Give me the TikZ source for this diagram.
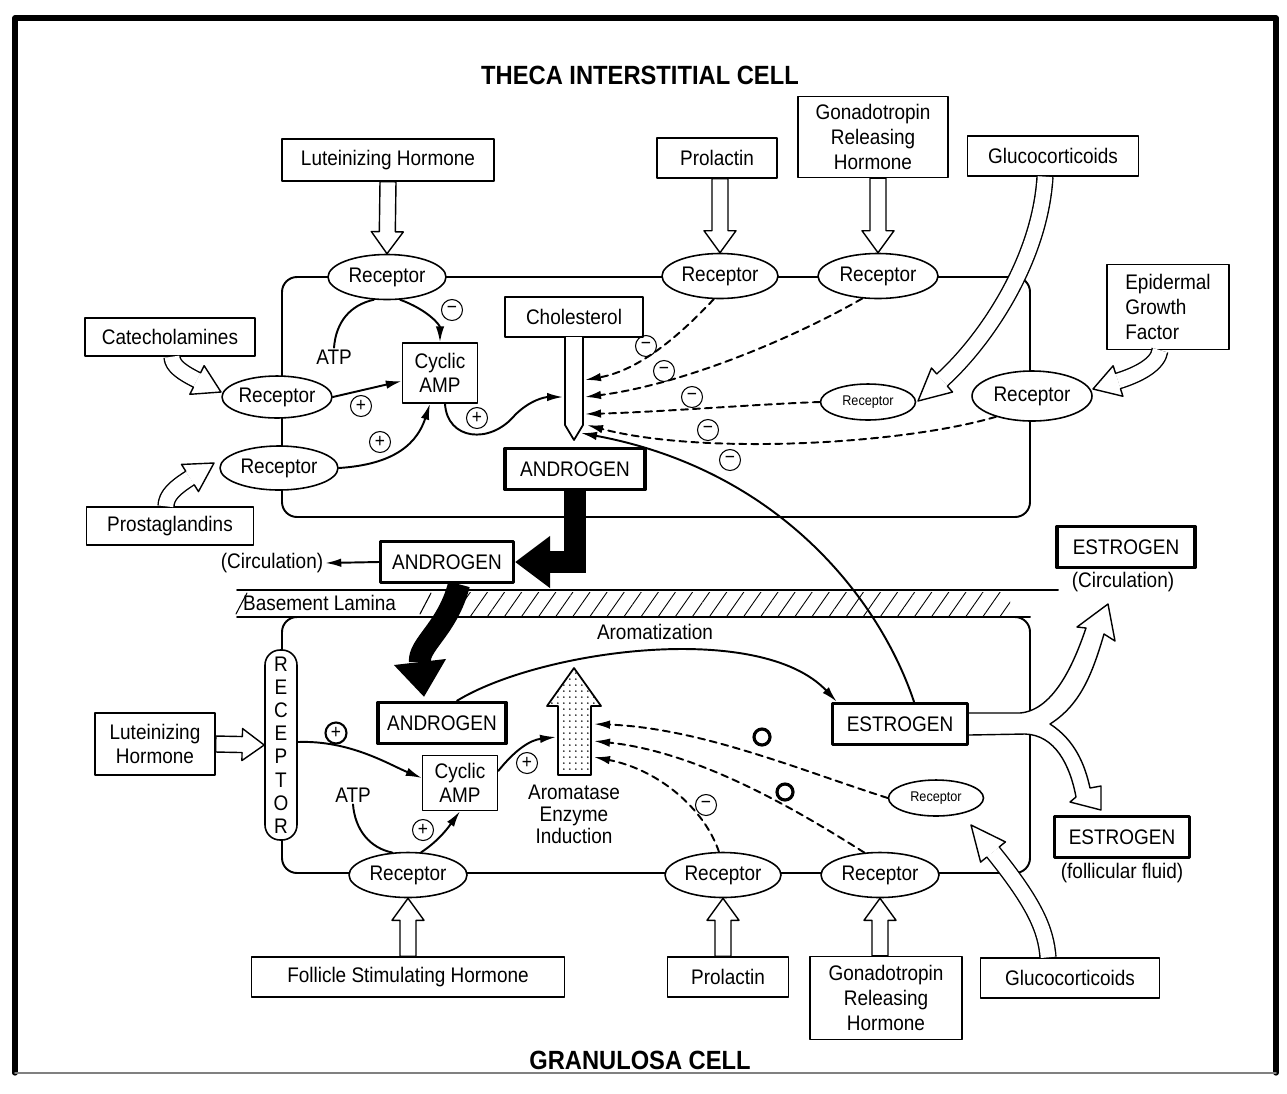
\documentclass[tikz,border=0pt]{standalone}
\usepackage{fontspec}
\setmainfont{Liberation Sans}[FakeStretch=0.9]
\usetikzlibrary{arrows.meta,calc,patterns.meta,shapes.geometric}

\begin{document}
\begin{tikzpicture}[x=0.02cm,y=-0.02cm,line cap=round,line join=round,
  every node/.style={inner sep=1pt,font=\fontsize{12}{14}\selectfont},
  box/.style={draw,line width=0.8pt,fill=white,align=center},
  hbox/.style={draw,line width=2pt,fill=white,minimum height=0.82cm},
  rec/.style={ellipse,draw,line width=0.9pt,fill=white,inner sep=0pt,minimum width=2.36cm,minimum height=0.9cm},
  srec/.style={rec,minimum width=1.9cm,minimum height=0.72cm,font=\fontsize{8}{9}\selectfont},
  arr/.style={line width=1.1pt,-{Latex[length=0.32cm,width=0.17cm]}},
  dsh/.style={arr,dash pattern=on 0.14cm off 0.1cm},
  sgn/.style={circle,draw,line width=0.6pt,minimum size=0.42cm,inner sep=0pt,font=\fontsize{11}{11}\selectfont},
  ring/.style={circle,draw,line width=1.8pt,minimum size=0.32cm,inner sep=0pt},
  blk/.style={line width=0.44cm,line cap=butt,-{Triangle[length=0.7cm,width=1.05cm,line width=0pt]}},
  hshaft/.style={line width=0.8pt,line cap=butt,double=white,double distance=0.29cm},
  hhead/.style={fill=white,line width=0.8pt,to path={
    ($(\tikztostart)!0.16cm!90:(\tikztotarget)$) -- ($(\tikztostart)!0.32cm!90:(\tikztotarget)$)
    -- (\tikztotarget) -- ($(\tikztostart)!0.32cm!-90:(\tikztotarget)$)
    -- ($(\tikztostart)!0.16cm!-90:(\tikztotarget)$)}},
  hollow/.style={fill=white,line width=0.8pt,to path={
    ($(\tikztostart)!0.16cm!90:(\tikztotarget)$)
    -- ($(\tikztotarget)!0.44cm!(\tikztostart)!0.16cm!90:(\tikztotarget)$)
    -- ($(\tikztotarget)!0.44cm!(\tikztostart)!0.32cm!90:(\tikztotarget)$)
    -- (\tikztotarget)
    -- ($(\tikztotarget)!0.44cm!(\tikztostart)!0.32cm!-90:(\tikztotarget)$)
    -- ($(\tikztotarget)!0.44cm!(\tikztostart)!0.16cm!-90:(\tikztotarget)$)
    -- ($(\tikztostart)!0.16cm!-90:(\tikztotarget)$) -- cycle}}]
  \useasboundingbox (0,0) rectangle (1287,1093);
  \draw[line width=3pt] (15,1073) -- (15,18) -- (1276,18) -- (1276,1073);
  \draw[line width=1pt,gray] (15,1073) -- (1276,1073);

  % 细胞膜与基底层
  \draw[line width=1.1pt,rounded corners=0.3cm] (282,277) rectangle (1030,517);
  \draw[line width=1.1pt,rounded corners=0.3cm] (282,617) rectangle (1030,873);
  \fill[pattern={Lines[angle=55,distance=0.28cm,line width=0.5pt]}] (438,592) rectangle (1010,615);
  \draw[line width=1.1pt] (237,590) -- (1058,590) (237,617) -- (1030,617);
  \draw[line width=0.6pt] (236,614) -- (247,593) (420,614) -- (431,593);
  \node[anchor=west] (lam) at (241,603) {Basement Lamina};

  % 卵泡膜细胞
  \node[font=\fontsize{15}{18}\selectfont\bfseries] (theca) at (640,75) {THECA INTERSTITIAL CELL};
  \node[box,minimum width=4.24cm,minimum height=0.84cm] (lhT) at (388,160) {Luteinizing Hormone};
  \node[box,minimum width=2.4cm,minimum height=0.8cm] (prlT) at (717,158) {Prolactin};
  \node[box,minimum width=3.0cm,minimum height=1.62cm] (gnrhT) at (873,137) {Gonadotropin\\Releasing\\Hormone};
  \node[box,minimum width=3.42cm,minimum height=0.8cm] (gcT) at (1053,156) {Glucocorticoids};
  \node[box,align=left,minimum width=2.44cm,minimum height=1.7cm] (egf) at (1168,307) {Epidermal\\Growth\\Factor};
  \node[box,minimum width=3.4cm,minimum height=0.76cm] (cat) at (170,337) {Catecholamines};
  \node[box,minimum width=3.34cm,minimum height=0.76cm] (pg) at (170,526) {Prostaglandins};
  \node[rec] (recLH) at (387,277) {Receptor};
  \node[rec,minimum width=2.32cm] (recPRL) at (720,276) {Receptor};
  \node[rec,minimum width=2.4cm] (recGN) at (878,276) {Receptor};
  \node[srec] (recGC) at (868,402) {Receptor};
  \node[rec,minimum width=2.4cm,minimum height=1cm] (recEGF) at (1032,396) {Receptor};
  \node[rec,minimum width=2.2cm,minimum height=0.84cm] (recCAT) at (277,397) {Receptor};
  \node[rec,minimum height=0.88cm] (recPG) at (279,468) {Receptor};
  \node[box,minimum width=1.5cm,minimum height=1.2cm] (campT) at (440,373) {Cyclic\\AMP};
  \node (atpT) at (334,357) {ATP};
  \node[box,minimum width=2.76cm,minimum height=0.8cm] (chol) at (574,317) {Cholesterol};
  \draw[line width=1pt,fill=white] (565,337) -- (565,425) -- (574,440) -- (583,425) -- (583,337);
  \node[hbox,minimum width=2.8cm] (androT) at (575,469) {ANDROGEN};
  \coordinate (tL) at (563,397);
  \coordinate (t1) at (585,380);
  \coordinate (t2) at (585,397);
  \coordinate (t3) at (585,414);
  \coordinate (t4) at (587,425);
  \coordinate (t5) at (581,433);

  \node[hbox,minimum width=2.66cm] (androM) at (447,562) {ANDROGEN};
  \node (circA) at (272,563) {(Circulation)};
  \node[hbox,minimum width=2.76cm] (estC) at (1126,547) {ESTROGEN};
  \node (circE) at (1123,582) {(Circulation)};

  % 颗粒细胞
  \node[hbox,minimum width=2.56cm] (androG) at (442,723) {ANDROGEN};
  \node[hbox,minimum width=2.7cm] (estG) at (900,724) {ESTROGEN};
  \node[hbox,minimum width=2.7cm] (estF) at (1122,837) {ESTROGEN};
  \node (fluid) at (1122,873) {(follicular fluid)};
  \node[draw,line width=0.9pt,fill=white,rounded corners=0.3cm,minimum width=0.64cm,minimum height=3.8cm,
    align=center,font=\fontsize{12}{13.2}\selectfont] (recV) at (281,745) {R\\E\\C\\E\\P\\T\\O\\R};
  \node[box,minimum width=2.4cm,minimum height=1.24cm] (lhG) at (155,744) {Luteinizing\\Hormone};
  \node[box,minimum width=1.5cm,minimum height=1.1cm] (campG) at (460,783) {Cyclic\\AMP};
  \node (atpG) at (353,795) {ATP};
  \node (aroLbl) at (655,632) {Aromatization};
  \draw[line width=1pt,pattern={Dots[distance=0.12cm,radius=0.5pt]}] (574,668) -- (601,706) -- (591,706)
    -- (591,775) -- (558,775) -- (558,706) -- (547,706) -- cycle;
  \node[align=center,font=\fontsize{12}{12.5}\selectfont] (aroTxt) at (574,814) {Aromatase\\Enzyme\\Induction};
  \coordinate (aL) at (556,737);
  \coordinate (a1) at (594,724);
  \coordinate (a2) at (594,741);
  \coordinate (a3) at (594,757);
  \node[rec] (recFSH) at (408,875) {Receptor};
  \node[rec,minimum width=2.32cm] (recPRLG) at (723,875) {Receptor};
  \node[rec] (recGNG) at (880,875) {Receptor};
  \node[srec] (recGCG) at (936,798) {Receptor};
  \node[box,minimum width=6.26cm,minimum height=0.8cm] (fsh) at (408,977) {Follicle Stimulating Hormone};
  \node[box,minimum width=2.42cm,minimum height=0.8cm] (prlG) at (728,977) {Prolactin};
  \node[box,minimum width=3.04cm,minimum height=1.66cm] (gnrhG) at (886,998) {Gonadotropin\\Releasing\\Hormone};
  \node[box,minimum width=3.58cm,minimum height=0.8cm] (gcG) at (1070,978) {Glucocorticoids};
  \node[font=\fontsize{15}{18}\selectfont\bfseries] (gran) at (640,1060) {GRANULOSA CELL};

  % 空心箭头
  \draw[hollow] (lhT.south) to (recLH.north);
  \draw[hollow] (prlT.south -| recPRL.north) to (recPRL.north);
  \draw[hollow] (gnrhT.south -| recGN.north) to (recGN.north);
  \draw[hollow] (fsh.north) to (recFSH.south);
  \draw[hollow] (prlG.north -| recPRLG.south) to (recPRLG.south);
  \draw[hollow] (gnrhG.north -| recGNG.south) to (recGNG.south);
  \draw[hollow] (lhG.east) to (recV.west);
  \coordinate (gA) at (942,380);
  \coordinate (gB) at (918,401);
  \draw[hshaft] ($(gcT.south)+(-8,0)$) .. controls (1040,260) and (986,340) .. (gA);
  \draw[hhead] (gA) to (gB);
  \coordinate (gC) at (993,852);
  \coordinate (gD) at (971,825);
  \draw[hshaft] ($(gcG.north)+(-22,0)$) .. controls (1046,930) and (1035,904) .. (gC);
  \draw[hhead] (gC) to (gD);
  \coordinate (cA) at (197,380);
  \coordinate (cB) at (221,392);
  \draw[hshaft] ($(cat.south)+(2,0)$) .. controls (172,366) and (183,373) .. (cA);
  \draw[hhead] (cA) to (cB);
  \coordinate (pA) at (190,478);
  \coordinate (pB) at (214,463);
  \draw[hshaft] ($(pg.north)+(-4,0)$) .. controls (166,495) and (176,487) .. (pA);
  \draw[hhead] (pA) to (pB);
  \coordinate (eA) at (1118,381);
  \coordinate (eB) at (1093,389);
  \draw[hshaft] ($(egf.south)+(-8,0)$) .. controls (1158,365) and (1137,375) .. (eA);
  \draw[hhead] (eA) to (eB);
  \draw[line width=0.8pt,fill=white] ($(estG.east)+(0,-11)$) -- (1020,713) .. controls (1055,710) and (1075,660) .. (1086,628)
    -- (1077,627) -- (1108,604) -- (1115,641) -- (1104,634) .. controls (1092,675) and (1080,705) .. (1050,724)
    .. controls (1075,740) and (1085,765) .. (1090,788) -- (1101,786) -- (1101,810) -- (1070,802) -- (1076,797)
    .. controls (1070,765) and (1055,735) .. (1025,734) -- ($(estG.east)+(0,11)$);

  % 雄激素转运
  \draw[blk,line join=miter] (androT.south) |- (androM.east);
  \draw[blk] ($(androM.south)+(12,0)$) .. controls (448,628) and (418,645) .. ($(androG.north)+(-18,-4)$);
  \draw[arr] (androM.west) -- (circA.east);

  % 膜细胞内信号
  \draw[line width=1.1pt] (atpT.north) .. controls (336,322) and (350,305) .. (recLH.240);
  \draw[arr] (recLH.300) .. controls (428,310) and (440,325) .. (campT.north);
  \draw[arr] (recCAT.east) -- ($(campT.west)+(0,8)$);
  \draw[arr] (recPG.east) .. controls (385,465) and (415,450) .. ($(campT.south)+(-10,0)$);
  \draw[arr] ($(campT.south)+(5,0)$) .. controls (447,440) and (490,445) .. (515,415) .. controls (530,400) and (545,397) .. (tL);
  \draw[dsh] (recPRL.255) .. controls (680,335) and (640,370) .. (t1);
  \draw[dsh] (recGN.235) .. controls (790,340) and (680,385) .. (t2);
  \draw[dsh] (recGC.west) .. controls (760,404) and (660,412) .. (t3);
  \draw[dsh] (recEGF.210) .. controls (900,445) and (700,455) .. (t4);
  \draw[arr] ($(estG.north)+(14,0)$) .. controls (880,600) and (780,470) .. (t5);
  \node[sgn] (m0) at (452,310) {−};
  \node[sgn] (m1) at (646,346) {−};
  \node[sgn] (m2) at (664,371) {−};
  \node[sgn] (m3) at (692,397) {−};
  \node[sgn] (m4) at (708,430) {−};
  \node[sgn] (m5) at (730,460) {−};
  \node[sgn] (p1) at (361,406) {+};
  \node[sgn] (p2) at (380,442) {+};
  \node[sgn] (p3) at (477,418) {+};

  % 颗粒细胞内信号
  \draw[arr] ($(androG.north)+(15,0)$) .. controls (540,650) and (760,620) .. ($(estG.north west)+(6,0)$);
  \draw[arr] ($(recV.east)+(0,-3)$) .. controls (350,740) and (390,765) .. ($(campG.west)+(0,-5)$);
  \draw[arr] ($(campG.east)+(0,-12)$) .. controls (515,750) and (530,740) .. (aL);
  \draw[line width=1.1pt] (atpG.south) .. controls (355,830) and (370,848) .. (recFSH.125);
  \draw[arr] (recFSH.60) .. controls (440,840) and (450,825) .. (campG.south);
  \draw[dsh] (recGCG.west) .. controls (800,770) and (700,728) .. (a1);
  \draw[dsh] (recGNG.125) .. controls (800,812) and (700,752) .. (a2);
  \draw[dsh] (recPRLG.100) .. controls (705,810) and (660,770) .. (a3);
  \node[sgn,line width=1.2pt] (p4) at (336,733) {+};
  \node[sgn] (p5) at (527,763) {+};
  \node[sgn] (p6) at (423,830) {+};
  \node[sgn] (m6) at (706,805) {−};
  \node[ring] (o1) at (762,737) {};
  \node[ring] (o2) at (785,792) {};
\end{tikzpicture}
\end{document}
